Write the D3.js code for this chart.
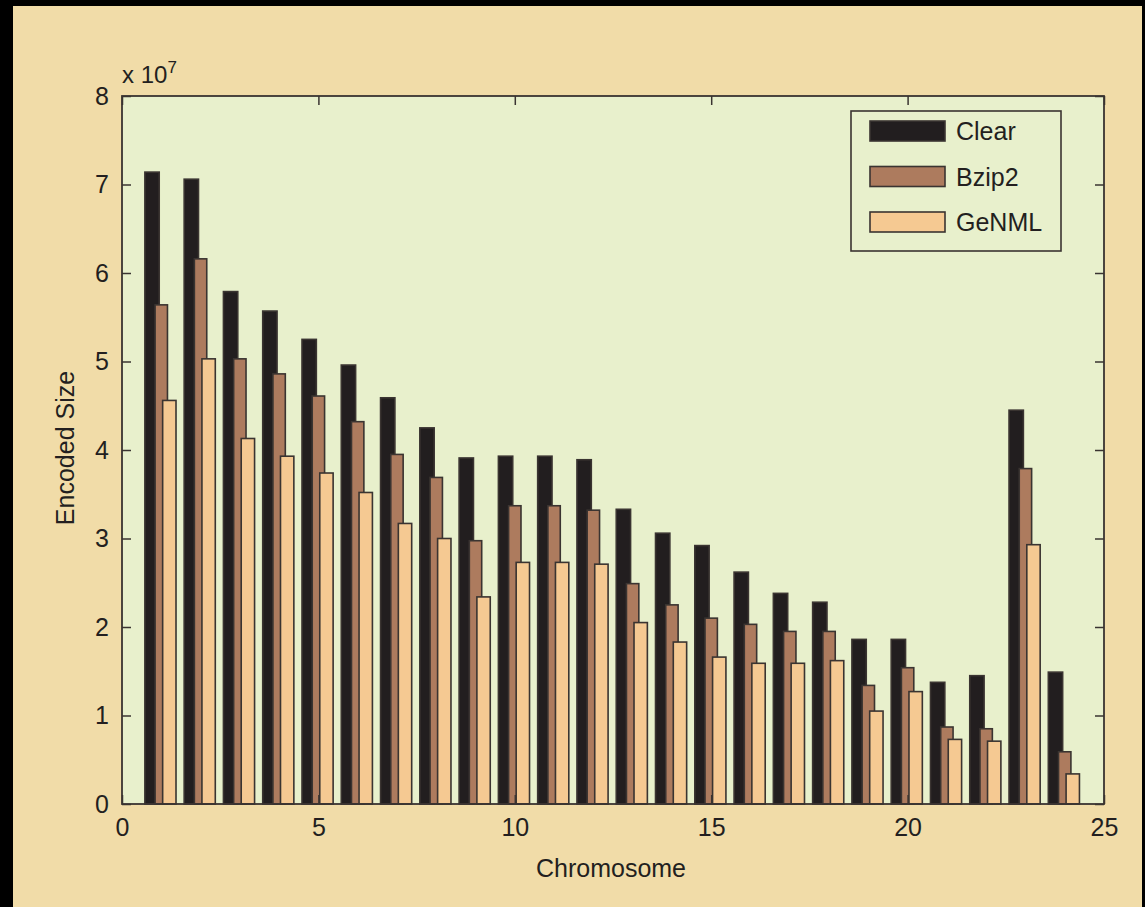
<!DOCTYPE html>
<html>
<head>
<meta charset="utf-8">
<script src="https://cdn.jsdelivr.net/npm/d3@7"></script>
<style>
  html, body { margin: 0; padding: 0; background: #000; }
  svg { display: block; }
  text { font-family: "Liberation Sans", Arial, Helvetica, sans-serif; fill: #231f20; }
</style>
</head>
<body>
<svg id="chart" width="1145" height="907"></svg>
<script>
// ---- data ----
const chromosomes = [1,2,3,4,5,6,7,8,9,10,11,12,13,14,15,16,17,18,19,20,21,22,23,24];
const clearSizes = [7.14,7.06,5.79,5.57,5.25,4.96,4.59,4.25,3.91,3.93,3.93,3.89,3.33,3.06,2.92,2.62,2.38,2.28,1.86,1.86,1.375,1.45,4.45,1.49];
const bzip2Sizes = [5.64,6.16,5.03,4.86,4.61,4.32,3.95,3.69,2.975,3.37,3.37,3.32,2.49,2.25,2.10,2.03,1.95,1.95,1.34,1.54,0.87,0.85,3.79,0.59];
const genmlSizes = [4.56,5.03,4.13,3.93,3.74,3.52,3.17,3.00,2.34,2.73,2.73,2.71,2.05,1.83,1.66,1.59,1.59,1.62,1.05,1.27,0.73,0.71,2.93,0.34];
const seriesNames = ["Clear", "Bzip2", "GeNML"];
const xTicks = [0,5,10,15,20,25];
const yTicks = [0,1,2,3,4,5,6,7,8];

(function () {
const series = [
  {name: seriesNames[0], values: clearSizes, color: "#221e1f", offset: -0.235, width: 0.365},
  {name: seriesNames[1], values: bzip2Sizes, color: "#ad7b5e", offset: 0.0, width: 0.315},
  {name: seriesNames[2], values: genmlSizes, color: "#f5c992", offset: 0.205, width: 0.34}
];

const svg = d3.select("#chart");
const W = 1145, H = 907;
svg.append("rect").attr("x", 13).attr("y", 6).attr("width", 1129).attr("height", H - 6).attr("fill", "#f1dca8");

const pL = 122, pR = 1104, pT = 96, pB = 804;
const x = d3.scaleLinear().domain([0, 25]).range([pL, pR]);
const y = d3.scaleLinear().domain([0, 8]).range([pB, pT]);

svg.append("rect").attr("x", pL).attr("y", pT).attr("width", pR - pL).attr("height", pB - pT)
  .attr("fill", "#e8f0cc");

series.forEach(s => {
  svg.append("g").selectAll("rect").data(chromosomes).join("rect")
    .attr("x", (c) => x(c + s.offset - s.width / 2))
    .attr("width", () => x(s.width) - x(0))
    .attr("y", (c, i) => y(s.values[i]))
    .attr("height", (c, i) => y(0) - y(s.values[i]))
    .attr("fill", s.color)
    .attr("stroke", "#3a3431")
    .attr("stroke-width", 1.6);
});

const tickLen = 9;
const axStyle = g => {
  g.select(".domain").remove();
  g.selectAll("line").attr("stroke", "#3a3431").attr("stroke-width", 1.5);
  g.selectAll("text").style("font-size", "25px").attr("fill", "#231f20");
};
svg.append("g").attr("transform", `translate(0,${pB})`)
  .call(d3.axisBottom(x).tickValues(xTicks).tickSize(-tickLen).tickPadding(14).tickFormat(d3.format("d")))
  .call(axStyle);
svg.append("g").attr("transform", `translate(0,${pT})`)
  .call(d3.axisTop(x).tickValues(xTicks).tickSize(-tickLen).tickFormat(""))
  .call(axStyle);
svg.append("g").attr("transform", `translate(${pL},0)`)
  .call(d3.axisLeft(y).tickValues(yTicks).tickSize(-tickLen).tickPadding(13).tickFormat(d3.format("d")))
  .call(axStyle);
svg.append("g").attr("transform", `translate(${pR},0)`)
  .call(d3.axisRight(y).tickValues(yTicks).tickSize(-tickLen).tickFormat(""))
  .call(axStyle);

svg.append("rect").attr("x", pL).attr("y", pT).attr("width", pR - pL).attr("height", pB - pT)
  .attr("fill", "none").attr("stroke", "#3a3431").attr("stroke-width", 1.8);

const ex = svg.append("text").attr("x", pL).attr("y", 83).style("font-size", "24px");
ex.append("tspan").text("x 10");
ex.append("tspan").attr("dy", -10).style("font-size", "17px").text("7");

svg.append("text").attr("x", 611).attr("y", 877).attr("text-anchor", "middle")
  .style("font-size", "25px").text("Chromosome");
svg.append("text").attr("transform", "translate(74,448) rotate(-90)").attr("text-anchor", "middle")
  .style("font-size", "25px").text("Encoded Size");

const lg = svg.append("g");
lg.append("rect").attr("x", 851).attr("y", 111).attr("width", 210).attr("height", 140)
  .attr("fill", "#e8f0cc").attr("stroke", "#3a3431").attr("stroke-width", 1.6);
series.forEach((s, i) => {
  const cy = 131 + i * 45.5;
  lg.append("rect").attr("x", 870).attr("y", cy - 10).attr("width", 75).attr("height", 20)
    .attr("fill", s.color).attr("stroke", "#3a3431").attr("stroke-width", 1.6);
  lg.append("text").attr("x", 956).attr("y", cy + 9).style("font-size", "25px").text(s.name);
});
})();
</script>
</body>
</html>
